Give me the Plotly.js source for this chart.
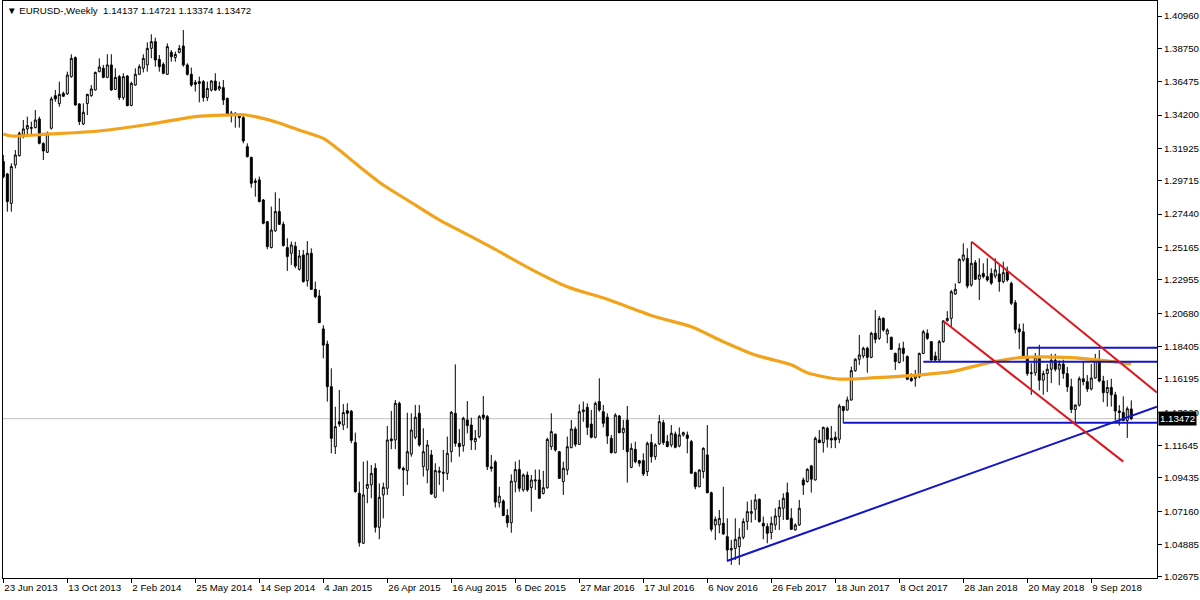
<!DOCTYPE html>
<html>
<head>
<meta charset="utf-8">
<script src="https://cdn.plot.ly/plotly-3.0.1.min.js"></script>
<style>
  html, body { margin: 0; padding: 0; background: #fff; }
  #chart { width: 1200px; height: 600px; }
</style>
</head>
<body>
<div id="chart"></div>
<script>
// ---- Weekly EURUSD candles (bar index 0 = week of 23 Jun 2013) ----
const openPx = [
1.3102,1.3018,1.2817,1.3079,1.3143,1.3284,1.3325,1.3329,1.3334,1.3393,
1.3225,1.3166,1.3330,1.3552,1.3498,1.3568,1.3564,1.3682,1.3812,1.3496,
1.3359,1.3498,1.3552,1.3591,1.3716,1.3739,1.3677,1.3762,1.3595,1.3682,
1.3539,1.3686,1.3486,1.3625,1.3698,1.3739,1.3762,1.3875,1.3921,1.3800,
1.3766,1.3698,1.3848,1.3812,1.3848,1.3891,1.3762,1.3698,1.3643,1.3648,
1.3648,1.3539,1.3591,1.3652,1.3598,1.3607,1.3534,1.3434,1.3432,1.3420,
1.3402,1.3204,1.3131,1.2970,1.2977,1.2840,1.2692,1.2515,1.2629,1.2761,
1.2674,1.2515,1.2476,1.2525,1.2367,1.2465,1.2289,1.2476,1.2230,1.2185,
1.1960,1.1857,1.1566,1.1156,1.1327,1.1304,1.1402,1.1398,1.1184,1.0838,
1.0497,1.0872,1.0895,1.1009,1.0606,1.0827,1.0872,1.1209,1.1202,1.1452,
1.1009,1.0993,1.1106,1.1220,1.1384,1.1020,1.0997,1.1100,1.0811,1.0981,
1.0974,1.0974,1.1122,1.1384,1.1179,1.1163,1.1338,1.1304,1.1190,1.1225,
1.1372,1.1361,1.1018,1.1052,1.0773,1.0785,1.0687,1.0637,1.0917,1.1000,
1.0861,1.0963,1.0877,1.0922,1.0929,1.0837,1.0876,1.1156,1.1241,1.1122,
1.0918,1.0997,1.1150,1.1277,1.1172,1.1395,1.1425,1.1311,1.1220,1.1464,
1.1395,1.1357,1.1213,1.1115,1.1366,1.1252,1.1338,1.1015,1.1138,1.1061,
1.1061,1.0986,1.1184,1.1088,1.1175,1.1320,1.1191,1.1168,1.1243,1.1161,
1.1236,1.1236,1.1191,1.0979,1.0883,1.0986,1.1100,1.0842,1.0622,1.0622,
1.0633,1.0542,1.0451,1.0462,1.0474,1.0538,1.0645,1.0702,1.0729,1.0797,
1.0633,1.0611,1.0570,1.0622,1.0679,1.0736,1.0842,1.0667,1.0588,1.0622,
1.0929,1.0918,1.1025,1.0929,1.1202,1.1184,1.1282,1.1213,1.1220,1.1207,
1.1430,1.1407,1.1475,1.1675,1.1753,1.1775,1.1828,1.1766,1.1930,1.1896,
1.2032,1.1925,1.1903,1.1793,1.1730,1.1828,1.1771,1.1623,1.1623,1.1634,
1.1793,1.1930,1.1873,1.1775,1.1748,1.1873,1.2016,1.2032,1.2198,1.2276,
1.2431,1.2442,1.2260,1.2412,1.2299,1.2339,1.2317,1.2339,1.2321,1.2335,
1.2283,1.2351,1.2271,1.2139,1.1960,1.1940,1.1770,1.1655,1.1660,1.1765,
1.1610,1.1655,1.1685,1.1745,1.1685,1.1720,1.1655,1.1565,1.1410,1.1440,
1.1620,1.1600,1.1550,1.1625,1.1745,1.1605,1.1525,1.1560,1.1510,1.1400,
1.1390,1.1335,1.14137];
const highPx = [
1.3147,1.3025,1.3090,1.3181,1.3307,1.3386,1.3409,1.3375,1.3454,1.3409,
1.3235,1.3307,1.3545,1.3591,1.3648,1.3580,1.3716,1.3835,1.3820,1.3500,
1.3500,1.3565,1.3625,1.3716,1.3807,1.3762,1.3835,1.3835,1.3739,1.3693,
1.3705,1.3693,1.3648,1.3739,1.3766,1.3835,1.3916,1.3971,1.3948,1.3830,
1.3780,1.3909,1.3864,1.3853,1.3898,1.4000,1.3773,1.3744,1.3659,1.3682,
1.3659,1.3648,1.3659,1.3705,1.3648,1.3659,1.3539,1.3448,1.3439,1.3425,
1.3420,1.3227,1.3135,1.2988,1.3000,1.2847,1.2697,1.2795,1.2893,1.2852,
1.2692,1.2579,1.2556,1.2555,1.2499,1.2499,1.2560,1.2510,1.2283,1.2226,
1.1985,1.1880,1.1691,1.1429,1.1543,1.1447,1.1452,1.1407,1.1252,1.0918,
1.1054,1.1061,1.1031,1.1043,1.0906,1.0911,1.1298,1.1400,1.1475,1.1464,
1.1020,1.1388,1.1384,1.1441,1.1441,1.1282,1.1202,1.1134,1.1043,1.1020,
1.1134,1.1225,1.1400,1.1718,1.1277,1.1361,1.1468,1.1354,1.1270,1.1372,
1.1502,1.1372,1.1100,1.1064,1.0883,1.0796,1.0730,1.0967,1.1054,1.1066,
1.0974,1.0986,1.0963,1.1000,1.1000,1.0991,1.1217,1.1384,1.1247,1.1127,
1.1054,1.1225,1.1338,1.1293,1.1445,1.1464,1.1452,1.1407,1.1464,1.1623,
1.1441,1.1384,1.1236,1.1384,1.1372,1.1339,1.1434,1.1179,1.1190,1.1066,
1.1111,1.1191,1.1243,1.1179,1.1372,1.1339,1.1236,1.1304,1.1259,1.1288,
1.1259,1.1259,1.1202,1.0986,1.1002,1.1152,1.1304,1.0849,1.0679,1.0724,
1.0883,1.0667,1.0520,1.0667,1.0599,1.0667,1.0781,1.0793,1.0833,1.0802,
1.0679,1.0633,1.0679,1.0736,1.0793,1.0838,1.0911,1.0736,1.0633,1.0793,
1.0945,1.1009,1.1032,1.1225,1.1270,1.1293,1.1293,1.1298,1.1259,1.1448,
1.1434,1.1498,1.1703,1.1760,1.1919,1.1839,1.1839,1.1941,1.2089,1.2048,
1.2039,1.1964,1.1907,1.1798,1.1862,1.1873,1.1780,1.1657,1.1680,1.1798,
1.1953,1.1957,1.1878,1.1805,1.1884,1.2021,1.2081,1.2226,1.2271,1.2442,
1.2544,1.2510,1.2556,1.2430,1.2442,1.2408,1.2442,1.2374,1.2442,1.2396,
1.2419,1.2385,1.2283,1.2157,1.1995,1.1997,1.1830,1.1725,1.1796,1.1852,
1.1675,1.1720,1.1790,1.1790,1.1745,1.1750,1.1700,1.1620,1.1445,1.1635,
1.1735,1.1645,1.1720,1.1790,1.1815,1.1640,1.1610,1.1620,1.1530,1.1440,
1.1500,1.1430,1.14721];
const lowPx = [
1.2988,1.2760,1.2760,1.3056,1.3136,1.3261,1.3272,1.3284,1.3329,1.3220,
1.3113,1.3160,1.3320,1.3511,1.3477,1.3545,1.3557,1.3675,1.3484,1.3352,
1.3352,1.3420,1.3545,1.3588,1.3712,1.3671,1.3671,1.3585,1.3591,1.3523,
1.3523,1.3480,1.3480,1.3620,1.3693,1.3711,1.3716,1.3807,1.3750,1.3716,
1.3698,1.3693,1.3784,1.3784,1.3841,1.3750,1.3689,1.3613,1.3580,1.3507,
1.3511,1.3516,1.3580,1.3584,1.3584,1.3489,1.3420,1.3370,1.3334,1.3334,
1.3227,1.3131,1.2924,1.2863,1.2824,1.2674,1.2504,1.2510,1.2624,1.2670,
1.2522,1.2356,1.2397,1.2374,1.2358,1.2276,1.2249,1.2226,1.2169,1.2000,
1.1759,1.1464,1.1111,1.1106,1.1293,1.1270,1.1282,1.1180,1.0842,1.0474,
1.0492,1.0770,1.0804,1.0570,1.0524,1.0667,1.0827,1.1139,1.1139,1.1000,
1.0820,1.0895,1.1088,1.1207,1.1156,1.0952,1.0906,1.0827,1.0804,1.0895,
1.0849,1.0929,1.1050,1.1156,1.1088,1.1122,1.1247,1.1134,1.1134,1.1213,
1.1338,1.0997,1.0986,1.0741,1.0741,1.0682,1.0605,1.0569,1.0844,1.0849,
1.0849,1.0849,1.0713,1.0861,1.0799,1.0830,1.0870,1.1134,1.1122,1.0936,
1.0827,1.0963,1.1145,1.1156,1.1168,1.1327,1.1236,1.1213,1.1213,1.1395,
1.1288,1.1175,1.1111,1.1111,1.1247,1.1134,1.0911,1.1009,1.1043,1.1020,
1.0956,1.0956,1.1047,1.1066,1.1168,1.1168,1.1152,1.1152,1.1145,1.1152,
1.1225,1.1111,1.0970,1.0865,1.0879,1.0940,1.0838,1.0576,1.0519,1.0565,
1.0554,1.0383,1.0349,1.0383,1.0349,1.0524,1.0588,1.0638,1.0656,1.0638,
1.0524,1.0497,1.0524,1.0588,1.0588,1.0656,1.0656,1.0588,1.0583,1.0615,
1.0827,1.0911,1.0843,1.0925,1.1180,1.1116,1.1150,1.1146,1.1146,1.1180,
1.1316,1.1402,1.1470,1.1668,1.1714,1.1759,1.1661,1.1760,1.1862,1.1885,
1.1941,1.1862,1.1816,1.1680,1.1725,1.1737,1.1611,1.1600,1.1566,1.1623,
1.1789,1.1885,1.1743,1.1737,1.1743,1.1866,1.2010,1.1975,1.2192,1.2271,
1.2419,1.2237,1.2248,1.2294,1.2158,1.2305,1.2283,1.2260,1.2305,1.2214,
1.2271,1.2283,1.2123,1.1930,1.1822,1.1762,1.1640,1.1510,1.1640,1.1540,
1.1510,1.1530,1.1590,1.1670,1.1575,1.1620,1.1530,1.1385,1.1300,1.1430,
1.1575,1.1530,1.1540,1.1620,1.1595,1.1460,1.1430,1.1430,1.1335,1.1300,
1.1330,1.1216,1.13374];
const closePx = [
1.2999,1.2829,1.3068,1.3147,1.3295,1.3325,1.3348,1.3334,1.3386,1.3227,
1.3175,1.3295,1.3530,1.3530,1.3561,1.3548,1.3693,1.3807,1.3489,1.3375,
1.3439,1.3561,1.3598,1.3711,1.3748,1.3677,1.3762,1.3591,1.3677,1.3539,
1.3682,1.3484,1.3636,1.3698,1.3750,1.3807,1.3875,1.3921,1.3796,1.3750,
1.3705,1.3887,1.3818,1.3834,1.3875,1.3762,1.3698,1.3625,1.3630,1.3636,
1.3539,1.3602,1.3652,1.3591,1.3614,1.3523,1.3425,1.3427,1.3425,1.3402,
1.3243,1.3136,1.2954,1.2961,1.2829,1.2681,1.2522,1.2635,1.2761,1.2674,
1.2529,1.2454,1.2533,1.2389,1.2458,1.2283,1.2476,1.2230,1.2180,1.2003,
1.1850,1.1566,1.1213,1.1293,1.1311,1.1389,1.1384,1.1198,1.0849,1.0501,
1.0827,1.0899,1.0974,1.0606,1.0811,1.0879,1.1202,1.1197,1.1452,1.1009,
1.0997,1.1122,1.1270,1.1357,1.1168,1.1122,1.1168,1.0834,1.0993,1.0990,
1.0981,1.1111,1.1391,1.1179,1.1156,1.1350,1.1300,1.1202,1.1213,1.1361,
1.1354,1.1020,1.1009,1.0778,1.0819,1.0687,1.0637,1.0921,1.1000,1.0872,
1.0963,1.0861,1.0929,1.0929,1.0804,1.0876,1.1206,1.1259,1.1134,1.0940,
1.1009,1.1156,1.1277,1.1172,1.1395,1.1407,1.1288,1.1220,1.1452,1.1407,
1.1316,1.1229,1.1115,1.1372,1.1252,1.1282,1.1122,1.1145,1.1054,1.1043,
1.0970,1.1179,1.1088,1.1168,1.1327,1.1184,1.1157,1.1248,1.1152,1.1236,
1.1252,1.1213,1.0975,1.0883,1.0997,1.1145,1.0842,1.0592,1.0660,1.0667,
1.0560,1.0451,1.0462,1.0524,1.0538,1.0645,1.0713,1.0713,1.0793,1.0645,
1.0615,1.0565,1.0633,1.0683,1.0742,1.0804,1.0660,1.0592,1.0622,1.0736,
1.0895,1.1002,1.0934,1.1213,1.1184,1.1288,1.1207,1.1202,1.1202,1.1434,
1.1402,1.1475,1.1675,1.1753,1.1782,1.1828,1.1766,1.1930,1.1889,1.2032,
1.1953,1.1953,1.1821,1.1737,1.1828,1.1793,1.1616,1.1607,1.1639,1.1793,
1.1941,1.1896,1.1748,1.1748,1.1873,1.2014,1.2032,1.2214,1.2230,1.2435,
1.2465,1.2253,1.2408,1.2299,1.2328,1.2317,1.2294,1.2273,1.2362,1.2283,
1.2344,1.2294,1.2135,1.1957,1.1940,1.1770,1.1655,1.1660,1.1765,1.1610,
1.1655,1.1685,1.1745,1.1685,1.1720,1.1655,1.1565,1.1410,1.1440,1.1620,
1.1600,1.1550,1.1625,1.1745,1.1605,1.1525,1.1560,1.1510,1.1400,1.1390,
1.1335,1.1415,1.13472];

// ---- Moving average (orange) at bar indices ----
const maIdx = [0,2,12,24,37,48,56,60,63,69,72,76,80,84,88,95,101,109,117,123,132,141,151,163,172,180,188,197,201,209,218,229,237,246,254,267,282];
const maVal = [1.3291,1.3277,1.3291,1.3311,1.3359,1.3409,1.3420,1.3422,1.3409,1.3366,1.3336,1.3299,1.3261,1.3181,1.3091,1.2942,1.2840,1.2704,1.2590,1.2503,1.2367,1.2248,1.2162,1.2043,1.1975,1.1873,1.1782,1.1715,1.1661,1.1618,1.1627,1.1646,1.1668,1.1727,1.1764,1.1764,1.1721];

// ---- Drawn objects: anchors as (bar index, price) ----
const redUpperIdx = [242.1, 288.4];
const redUpperPx  = [1.2555, 1.1527];
const redLowerIdx = [235.0, 280.0];
const redLowerPx  = [1.2014, 1.1054];
const blueTrendIdx = [180.9, 288.4];
const blueTrendPx  = [1.0376, 1.1429];
const levelStartIdx = [210, 230, 256];
const levelPx       = [1.1320, 1.1736, 1.1832];

// ---- Axis ticks ----
const xTickIdx = [0,16,32,48,64,80,96,112,128,144,160,176,192,208,224,240,256,272];
const xTickLabels = ['23 Jun 2013','13 Oct 2013','2 Feb 2014','25 May 2014','14 Sep 2014','4 Jan 2015','26 Apr 2015','16 Aug 2015','6 Dec 2015','27 Mar 2016','17 Jul 2016','6 Nov 2016','26 Feb 2017','18 Jun 2017','8 Oct 2017','28 Jan 2018','20 May 2018','9 Sep 2018'];
const yTickVals = [1.40960,1.38750,1.36475,1.34200,1.31925,1.29715,1.27440,1.25165,1.22955,1.20680,1.18405,1.16195,1.13920,1.11645,1.09435,1.07160,1.04885,1.02675];

const symbol = 'EURUSD-,Weekly';

// ---------------------------------------------------------------
const barIdx = openPx.map((_, i) => i);
const last = openPx.length - 1;
const lastClose = closePx[last];
const X_MAX = 288.43;

const FONT = 'Liberation Sans, Arial, sans-serif';
const BLUE = '#1414C8';
const RED = '#E0161E';

const traces = [];

traces.push({
  type: 'scatter', mode: 'lines', x: maIdx, y: maVal,
  line: { color: '#F2A31C', width: 3.2, shape: 'spline', smoothing: 0.8 },
  hoverinfo: 'skip'
});

traces.push({
  type: 'candlestick', x: barIdx,
  open: openPx, high: highPx, low: lowPx, close: closePx,
  increasing: { line: { color: '#000', width: 1 }, fillcolor: '#ffffff' },
  decreasing: { line: { color: '#000', width: 1 }, fillcolor: '#000000' },
  whiskerwidth: 0, hoverinfo: 'skip'
});

levelPx.forEach((p, k) => {
  traces.push({
    type: 'scatter', mode: 'lines',
    x: [levelStartIdx[k], X_MAX + 5], y: [p, p],
    line: { color: BLUE, width: 2 }, hoverinfo: 'skip'
  });
});
traces.push({ type: 'scatter', mode: 'lines', x: blueTrendIdx, y: blueTrendPx,
  line: { color: BLUE, width: 2 }, hoverinfo: 'skip' });
traces.push({ type: 'scatter', mode: 'lines', x: redUpperIdx, y: redUpperPx,
  line: { color: RED, width: 2 }, hoverinfo: 'skip' });
traces.push({ type: 'scatter', mode: 'lines', x: redLowerIdx, y: redLowerPx,
  line: { color: RED, width: 2 }, hoverinfo: 'skip' });

const header = '\u25BC\u00A0' + symbol + '\u00A0\u00A0' +
  [openPx[last], highPx[last], lowPx[last], closePx[last]].map(v => v.toFixed(5)).join('\u00A0');

const layout = {
  width: 1200, height: 600,
  margin: { l: 3, r: 43, t: 1, b: 22, pad: 0 },
  paper_bgcolor: '#ffffff', plot_bgcolor: '#ffffff',
  showlegend: false, hovermode: false,
  font: { family: FONT, size: 9.7, color: '#000' },
  xaxis: {
    range: [-0.08, X_MAX],
    showgrid: false, zeroline: false,
    showline: true, mirror: true, linecolor: '#000', linewidth: 1,
    ticks: 'outside', ticklen: 4, tickcolor: '#000', tickwidth: 1,
    tickvals: xTickIdx, ticktext: xTickLabels,
    ticklabelposition: 'outside right', tickangle: 0,
    tickfont: { family: FONT, size: 9.7, color: '#000' },
    automargin: false,
    rangeslider: { visible: false }, fixedrange: true
  },
  yaxis: {
    side: 'right',
    range: [1.02598, 1.41984],
    showgrid: false, zeroline: false,
    showline: true, mirror: true, linecolor: '#000', linewidth: 1,
    ticks: 'outside', ticklen: 4, tickcolor: '#000', tickwidth: 1,
    tickvals: yTickVals, tickformat: '.5f',
    tickfont: { family: FONT, size: 9.7, color: '#000' },
    automargin: false,
    fixedrange: true
  },
  shapes: [{
    type: 'line', layer: 'below', xref: 'paper', x0: 0, x1: 1,
    yref: 'y', y0: lastClose, y1: lastClose,
    line: { color: '#C0C0C0', width: 1 }
  }],
  annotations: [
    {
      xref: 'paper', yref: 'paper', x: 0, y: 1, xanchor: 'left', yanchor: 'top',
      xshift: 2, yshift: -2, showarrow: false, text: header,
      font: { family: FONT, size: 9.7, color: '#000' }
    },
    {
      xref: 'paper', yref: 'y', x: 1, y: lastClose, xanchor: 'left', yanchor: 'middle',
      xshift: 1, showarrow: false, text: lastClose.toFixed(5),
      bgcolor: '#000', borderpad: 1,
      font: { family: FONT, size: 9.7, color: '#fff' }
    }
  ]
};

Plotly.newPlot('chart', traces, layout, { staticPlot: true, displayModeBar: false });
</script>
</body>
</html>
